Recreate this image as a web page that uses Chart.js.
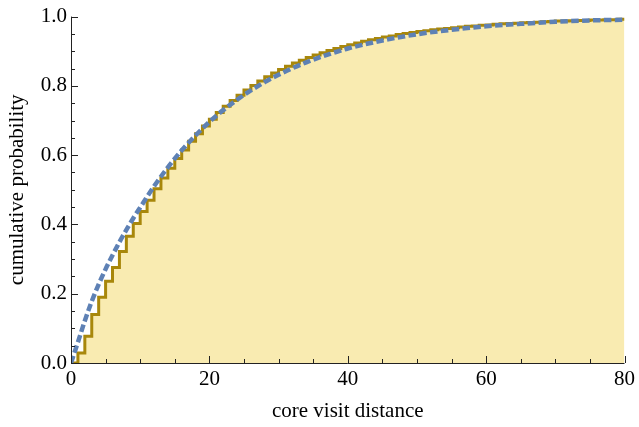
<!DOCTYPE html>
<html>
<head>
<meta charset="utf-8">
<script src="https://cdn.jsdelivr.net/npm/chart.js@4/dist/chart.umd.min.js"></script>
<style>
html,body{margin:0;padding:0;background:#fff;}
canvas{display:block;}
</style>
</head>
<body>
<canvas id="c" width="639" height="427"></canvas>
<script>
// Empirical (step) cumulative distribution: distance k -> P(D <= k)
const distances = [0,1,2,3,4,5,6,7,8,9,10,11,12,13,14,15,16,17,18,19,20,21,22,23,24,25,26,27,28,29,30,31,32,33,34,35,36,37,38,39,40,41,42,43,44,45,46,47,48,49,50,51,52,53,54,55,56,57,58,59,60,61,62,63,64,65,66,67,68,69,70,71,72,73,74,75,76,77,78,79,80];
const empiricalCdf = [0.000,0.029,0.077,0.140,0.190,0.236,0.276,0.322,0.366,0.403,0.437,0.470,0.503,0.534,0.562,0.590,0.615,0.640,0.662,0.684,0.704,0.723,0.741,0.758,0.773,0.788,0.801,0.814,0.826,0.837,0.847,0.857,0.866,0.874,0.882,0.889,0.896,0.902,0.908,0.914,0.919,0.924,0.929,0.933,0.937,0.941,0.944,0.948,0.951,0.954,0.957,0.959,0.962,0.964,0.966,0.968,0.970,0.972,0.973,0.975,0.976,0.978,0.979,0.980,0.981,0.982,0.983,0.984,0.985,0.986,0.987,0.987,0.988,0.989,0.989,0.990,0.990,0.991,0.991,0.992,0.992];

// Smooth fitted curve (dashed blue)
const fitX = [0,1,2,3,4,5,6,7,8,9,10,12,14,16,18,20,22,24,26,28,30,32,34,36,38,40,45,50,55,60,65,70,75,80];
const fitY = [0,0.060,0.122,0.178,0.227,0.271,0.311,0.349,0.384,0.418,0.449,0.510,0.565,0.614,0.657,0.696,0.730,0.760,0.787,0.811,0.832,0.851,0.868,0.883,0.896,0.908,0.931,0.949,0.962,0.972,0.979,0.985,0.989,0.991];

const xTickValues = [0,20,40,60,80];
const yTickValues = [0.0,0.2,0.4,0.6,0.8,1.0];

const stepData = distances.map((d,i)=>({x:d,y:empiricalCdf[i]}));
const fitData = fitX.map((d,i)=>({x:d,y:fitY[i]}));

const axesPlugin = {
  id:'mmaAxes',
  afterDatasetsDraw(chart){
    const {ctx} = chart;
    const xs = chart.scales.x, ys = chart.scales.y;
    const x0 = xs.getPixelForValue(0), x1 = xs.getPixelForValue(80);
    const y0 = ys.getPixelForValue(0), y1 = ys.getPixelForValue(1);
    ctx.save();
    ctx.strokeStyle = '#222';
    ctx.lineWidth = 1;
    ctx.beginPath();
    ctx.moveTo(Math.round(x0)+0.5, y0); ctx.lineTo(Math.round(x0)+0.5, y1);
    ctx.moveTo(x0, Math.round(y0)+0.5); ctx.lineTo(x1, Math.round(y0)+0.5);
    for(let i=0;i<=20;i++){
      const v=i*0.05, py=Math.round(ys.getPixelForValue(v))+0.5;
      const len = (i%4===0)?7:4;
      ctx.moveTo(x0, py); ctx.lineTo(x0+len, py);
    }
    for(let i=0;i<=16;i++){
      const v=i*5, px=Math.round(xs.getPixelForValue(v))+0.5;
      const len = (i%4===0)?7:4;
      ctx.moveTo(px, y0); ctx.lineTo(px, y0-len);
    }
    ctx.stroke();
    ctx.restore();
  }
};

new Chart(document.getElementById('c'), {
  type:'line',
  data:{
    datasets:[
      {
        label:'fit',
        data:fitData,
        borderColor:'#5E81B5',
        borderWidth:4.5,
        borderDash:[7.5,3.4],
        borderCapStyle:'butt',
        pointRadius:0,
        fill:false,
        cubicInterpolationMode:'monotone',
        order:0
      },
      {
        label:'empirical',
        data:stepData,
        borderColor:'#A8870B',
        backgroundColor:'#F9EBB1',
        borderWidth:3,
        stepped:'before',
        pointRadius:0,
        fill:'origin',
        order:1
      }
    ]
  },
  plugins:[axesPlugin],
  options:{
    responsive:false,
    devicePixelRatio:1,
    animation:false,
    layout:{padding:{top:12,right:10,left:0,bottom:0}},
    plugins:{legend:{display:false},tooltip:{enabled:false}},
    scales:{
      x:{
        type:'linear',min:0,max:80,
        afterFit(s){s.height=64;},
        afterBuildTicks(s){s.ticks = xTickValues.map(v=>({value:v}));},
        grid:{display:false,drawTicks:false},
        border:{display:false},
        ticks:{padding:4,color:'#000',font:{family:'Liberation Serif',size:21},maxRotation:0,
          callback:(v)=>String(v)},
        title:{display:true,text:'core visit distance',color:'#000',
          font:{family:'Liberation Serif',size:21},padding:{top:0,bottom:3}}
      },
      y:{
        type:'linear',min:0,max:1,
        afterFit(s){s.width=71;},
        afterBuildTicks(s){s.ticks = yTickValues.map(v=>({value:v}));},
        grid:{display:false,drawTicks:false},
        border:{display:false},
        ticks:{padding:4,color:'#000',font:{family:'Liberation Serif',size:21},
          callback:(v)=>Number(v).toFixed(1)},
        title:{display:true,text:'cumulative probability',color:'#000',
          font:{family:'Liberation Serif',size:21},padding:{top:5,bottom:0}}
      }
    }
  }
});
</script>
</body>
</html>
